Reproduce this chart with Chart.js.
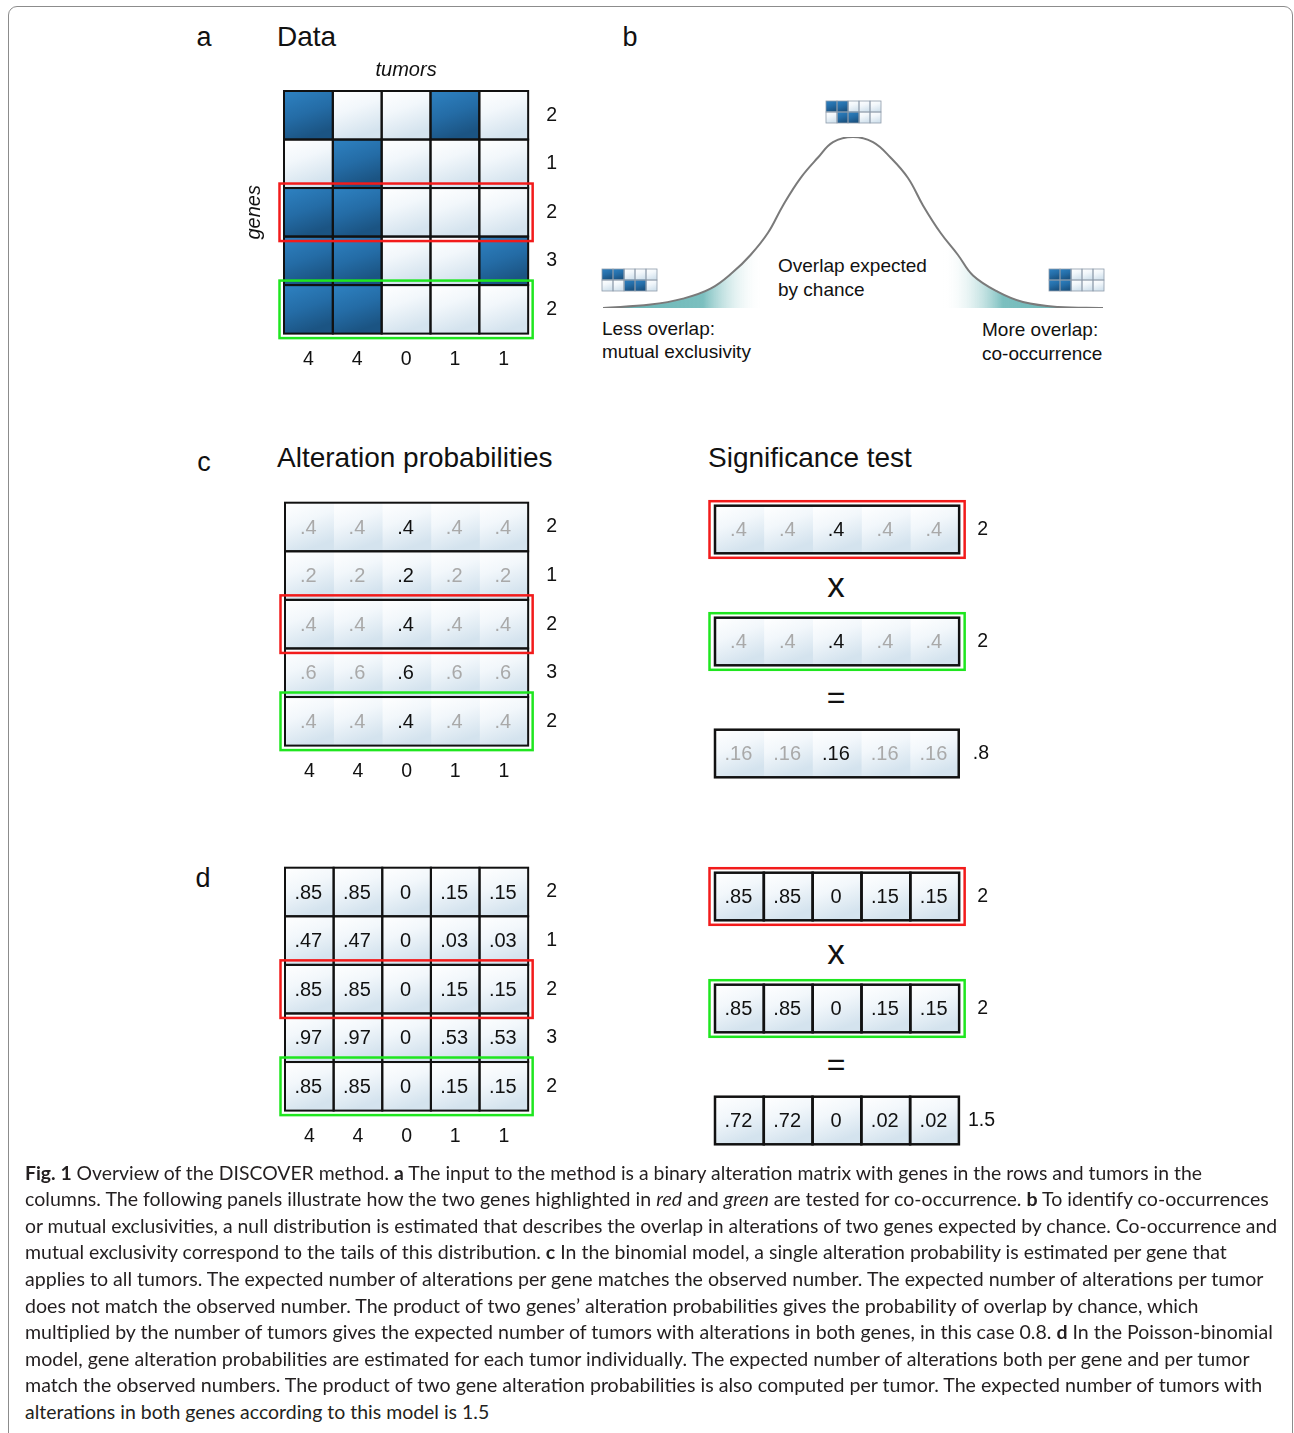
<!DOCTYPE html>
<html>
<head>
<meta charset="utf-8">
<script src="https://cdn.jsdelivr.net/npm/chart.js@4.4.1/dist/chart.umd.min.js"></script>
<style>
html, body { margin: 0; padding: 0; background: #fff; }
#fig { position: relative; width: 1294px; height: 1433px; overflow: hidden; font-family: 'Liberation Sans', Arial, sans-serif; color: #111; }
#frame { position: absolute; left: 8px; top: 6px; width: 1285px; height: 1480px; border: 1.5px solid #8c8c8c; border-radius: 9px; box-sizing: border-box; }
.t { position: absolute; white-space: nowrap; line-height: 1; }
.c { transform: translate(-50%, -50%); }
.l { transform: translateY(-50%); }
.w { position: absolute; }
.w canvas { display: block; }
.cap { position: absolute; left: 25px; top: 1200px; white-space: nowrap; line-height: 1; font-family: Lato, 'Open Sans', sans-serif; font-size: 19px; color: #231f20; transform-origin: 0 50%; }
</style>
</head>
<body>
<div id="fig">
  <div id="frame"></div>

  <div class="t c" style="left:204px;top:37px;font-size:27px">a</div>
  <div class="t l" style="left:277px;top:37px;font-size:28px">Data</div>
  <div class="t c" style="left:630px;top:37px;font-size:27px">b</div>
  <div class="t c" style="left:204px;top:462px;font-size:27px">c</div>
  <div class="t l" style="left:277px;top:458px;font-size:28px">Alteration probabilities</div>
  <div class="t l" style="left:708px;top:458px;font-size:28px">Significance test</div>
  <div class="t c" style="left:203px;top:878px;font-size:27px">d</div>

  <div class="t l" style="left:778px;top:265px;font-size:19px">Overlap expected</div>
  <div class="t l" style="left:778px;top:289px;font-size:19px">by chance</div>
  <div class="t l" style="left:602px;top:328px;font-size:19px">Less overlap:</div>
  <div class="t l" style="left:602px;top:351px;font-size:19px">mutual exclusivity</div>
  <div class="t l" style="left:982px;top:329px;font-size:19px">More overlap:</div>
  <div class="t l" style="left:982px;top:353px;font-size:19px">co-occurrence</div>

  <div class="t c" style="left:836px;top:584px;font-size:35px">x</div>
  <div class="t c" style="left:836px;top:697px;font-size:32px">=</div>
  <div class="t c" style="left:836px;top:951px;font-size:35px">x</div>
  <div class="t c" style="left:836px;top:1064px;font-size:32px">=</div>

  <div class="w" id="gA"></div>
  <div class="w" id="bell"></div>
  <div class="w" id="mTop"></div>
  <div class="w" id="mLeft"></div>
  <div class="w" id="mRight"></div>
  <div class="w" id="gC"></div>
  <div class="w" id="sC1"></div>
  <div class="w" id="sC2"></div>
  <div class="w" id="sC3"></div>
  <div class="w" id="gD"></div>
  <div class="w" id="sD1"></div>
  <div class="w" id="sD2"></div>
  <div class="w" id="sD3"></div>

  <div class="cap"><b>Fig. 1</b> Overview of the DISCOVER method. <b>a</b> The input to the method is a binary alteration matrix with genes in the rows and tumors in the</div>
  <div class="cap">columns. The following panels illustrate how the two genes highlighted in <i>red</i> and <i>green</i> are tested for co-occurrence. <b>b</b> To identify co-occurrences</div>
  <div class="cap">or mutual exclusivities, a null distribution is estimated that describes the overlap in alterations of two genes expected by chance. Co-occurrence and</div>
  <div class="cap">mutual exclusivity correspond to the tails of this distribution. <b>c</b> In the binomial model, a single alteration probability is estimated per gene that</div>
  <div class="cap">applies to all tumors. The expected number of alterations per gene matches the observed number. The expected number of alterations per tumor</div>
  <div class="cap">does not match the observed number. The product of two genes’ alteration probabilities gives the probability of overlap by chance, which</div>
  <div class="cap">multiplied by the number of tumors gives the expected number of tumors with alterations in both genes, in this case 0.8. <b>d</b> In the Poisson-binomial</div>
  <div class="cap">model, gene alteration probabilities are estimated for each tumor individually. The expected number of alterations both per gene and per tumor</div>
  <div class="cap">match the observed numbers. The product of two gene alteration probabilities is also computed per tumor. The expected number of tumors with</div>
  <div class="cap">alterations in both genes according to this model is 1.5</div>
</div>

<script>
const SANS = "'Liberation Sans', Arial, sans-serif";

// panel a: genes in rows, tumors in columns
const tumorTotals = ['4', '4', '0', '1', '1'];
const geneTotals = ['2', '1', '2', '3', '2'];
const alterations = [
  [1, 0, 0, 1, 0],
  [0, 1, 0, 0, 0],
  [1, 1, 0, 0, 0],
  [1, 1, 0, 0, 1],
  [1, 1, 0, 0, 0]
];
const redGene = 2;
const greenGene = 4;
const shownTumor = 2;   // column printed in black in panel c

// panel b: null distribution of overlap
const overlap = [-10, -8.1, -6.8, -5.7, -4.8, -4.1, -3.4, -2.8, -2.1, -1.4, -0.8, 0,
                 0.8, 1.5, 2.2, 2.8, 3.5, 4.2, 4.8, 5.8, 6.8, 8.2, 10];
const density = [0, 0.02, 0.055, 0.113, 0.21, 0.31, 0.44, 0.6, 0.76, 0.88, 0.97, 1,
                 0.97, 0.88, 0.76, 0.6, 0.44, 0.31, 0.19, 0.094, 0.035, 0.006, 0];
const miniChance = [[1, 1, 0, 0, 0], [0, 1, 1, 0, 0]];
const miniExclusive = [[1, 1, 0, 0, 0], [0, 0, 1, 1, 0]];
const miniCooccur = [[1, 1, 0, 0, 0], [1, 1, 0, 0, 0]];

// panel c: binomial model
const geneProb = ['.4', '.2', '.4', '.6', '.4'];
const pairProb = '.16';
const pairExpected = '.8';

// panel d: Poisson-binomial model
const tumorProb = [
  ['.85', '.85', '0', '.15', '.15'],
  ['.47', '.47', '0', '.03', '.03'],
  ['.85', '.85', '0', '.15', '.15'],
  ['.97', '.97', '0', '.53', '.53'],
  ['.85', '.85', '0', '.15', '.15']
];
const pairTumorProb = ['.72', '.72', '0', '.02', '.02'];
const pairTumorExpected = '1.5';

const RED = '#f21b1b';
const GREEN = '#1fe61f';

function cellFill(ctx, o, c) {
  const chart = ctx.chart, r = ctx.dataIndex;
  const xs = chart.scales.x, ys = chart.scales.y;
  if (r === undefined || !xs || !ys) return '#fff';
  const nR = o.cells.length;
  const h = (ys.bottom - ys.top) / nR;
  const y0 = ys.getPixelForValue(r) - h / 2;
  const x0 = xs.getPixelForValue(c), x1 = xs.getPixelForValue(c + 1);
  const dark = o.cells[r][c] === 1;
  if (![h, y0, x0, x1].every(Number.isFinite)) return dark ? '#2268a0' : '#eef4f9';
  const g = chart.ctx.createLinearGradient(x0, y0, x0 + (x1 - x0) * 0.35, y0 + h);
  if (dark) {
    g.addColorStop(0, '#2e82c2');
    g.addColorStop(0.55, '#246ca6');
    g.addColorStop(1, '#1b5483');
  } else {
    g.addColorStop(0, '#ffffff');
    g.addColorStop(0.45, '#f2f7fb');
    g.addColorStop(1, '#d4e3ee');
  }
  return g;
}

function gridDeco(o) {
  return {
    id: 'gridDeco',
    afterDatasetsDraw(chart) {
      const g = chart.ctx, xs = chart.scales.x, ys = chart.scales.y;
      const nR = o.cells.length, nC = o.cells[0].length;
      const h = (ys.bottom - ys.top) / nR;
      const top = r => ys.getPixelForValue(r) - h / 2;
      const L = xs.getPixelForValue(0), R = xs.getPixelForValue(nC);
      g.save();
      g.strokeStyle = o.lineColor || '#111';
      g.lineWidth = o.lineWidth || 2;
      for (let r = 0; r < nR; r++) {
        if (o.rowsOnly) {
          g.strokeRect(L, top(r), R - L, h);
        } else {
          for (let c = 0; c < nC; c++) {
            const a = xs.getPixelForValue(c), b = xs.getPixelForValue(c + 1);
            g.strokeRect(a, top(r), b - a, h);
          }
        }
      }
      if (o.texts) {
        g.font = '20px ' + SANS;
        g.textAlign = 'center';
        g.textBaseline = 'middle';
        for (let c = 0; c < nC; c++) {
          chart.getDatasetMeta(c).data.forEach((el, r) => {
            const p = el.getCenterPoint();
            g.fillStyle = o.textColor ? o.textColor(r, c) : '#111';
            g.fillText(o.texts[r][c], p.x - 1, p.y + 1);
          });
        }
      }
      (o.boxes || []).forEach(b => {
        g.strokeStyle = b.color;
        g.lineWidth = 2.5;
        g.strokeRect(L - b.px, top(b.row) - b.py, R - L + 2 * b.px, h + 2 * b.py);
      });
      g.restore();
    }
  };
}

function gridConfig(o) {
  const nC = o.cells[0].length;
  const datasets = [];
  for (let c = 0; c < nC; c++) {
    datasets.push({
      xAxisID: 'x', yAxisID: 'y',
      data: o.cells.map(() => 1),
      backgroundColor: ctx => cellFill(ctx, o, c),
      borderWidth: 0,
      barPercentage: 1,
      categoryPercentage: 1
    });
  }
  const noGrid = { display: false, drawTicks: false };
  const tickFont = { family: SANS, size: 19.5 };
  const scales = {
    x: { type: 'linear', stacked: true, min: 0, max: nC, display: false },
    y: {
      type: 'category', stacked: true, position: 'right', display: !!o.rowLabels,
      grid: noGrid, border: { display: false },
      ticks: { padding: o.rowPad || 18, color: '#111', font: tickFont, autoSkip: false }
    }
  };
  if (o.colLabels) {
    scales.xb = {
      type: 'category', axis: 'x', position: 'bottom', labels: o.colLabels, offset: true,
      grid: noGrid, border: { display: false },
      ticks: { padding: 14, color: '#111', font: tickFont, autoSkip: false, maxRotation: 0 }
    };
  }
  if (o.topTitle) {
    scales.xt = {
      type: 'category', axis: 'x', position: 'top', labels: [''],
      grid: noGrid, border: { display: false }, ticks: { display: false },
      title: { display: true, text: o.topTitle, color: '#111', font: { family: SANS, size: 20, style: 'italic' }, padding: 8.5 }
    };
  }
  if (o.leftTitle) {
    scales.yl = {
      type: 'category', axis: 'y', position: 'left', labels: [''],
      grid: noGrid, border: { display: false }, ticks: { display: false },
      title: { display: true, text: o.leftTitle, color: '#111', font: { family: SANS, size: 20, style: 'italic' }, padding: 17.5 }
    };
  }
  return {
    type: 'bar',
    data: { labels: o.rowLabels || o.cells.map(() => ''), datasets },
    options: {
      indexAxis: 'y', responsive: false, animation: false, events: [],
      layout: { padding: o.pad === undefined ? 8 : o.pad },
      plugins: { legend: { display: false }, tooltip: { enabled: false } },
      scales
    },
    plugins: [gridDeco(o)]
  };
}

// put a chart so that its chart area lands on the given box
function place(id, area, makeConfig) {
  const wrap = document.getElementById(id);
  let w = Math.round(area.w + 120), h = Math.round(area.h + 120), chart;
  for (let k = 0; k < 4; k++) {
    wrap.innerHTML = '';
    const cv = document.createElement('canvas');
    cv.width = w; cv.height = h;
    cv.style.width = w + 'px'; cv.style.height = h + 'px';
    wrap.appendChild(cv);
    chart = new Chart(cv, makeConfig());
    const ca = chart.chartArea;
    const dw = area.w - (ca.right - ca.left), dh = area.h - (ca.bottom - ca.top);
    if ((Math.abs(dw) < 0.6 && Math.abs(dh) < 0.6) || k === 3) break;
    chart.destroy();
    w = Math.round(w + dw); h = Math.round(h + dh);
  }
  wrap.style.left = Math.round(area.x - chart.chartArea.left) + 'px';
  wrap.style.top = Math.round(area.y - chart.chartArea.top) + 'px';
  return chart;
}

function safePlace(id, area, makeConfig) {
  try { place(id, area, makeConfig); } catch (e) { console.error(id, e); }
}

const rowBoxes = [{ row: redGene, color: RED, px: 4.5, py: 4.5 }, { row: greenGene, color: GREEN, px: 4.5, py: 4.5 }];

// panel a
safePlace('gA', { x: 284, y: 91, w: 244, h: 243 }, () => gridConfig({
  cells: alterations, rowLabels: geneTotals, colLabels: tumorTotals,
  topTitle: 'tumors', leftTitle: 'genes', boxes: rowBoxes, lineWidth: 2
}));

// panel b
safePlace('bell', { x: 603, y: 137, w: 500, h: 171 }, () => ({
  type: 'line',
  data: {
    datasets: [{
      data: overlap.map((x, i) => ({ x, y: density[i] })),
      borderColor: '#7a7a7a', borderWidth: 2, pointRadius: 0,
      tension: 0.4, fill: 'origin',
      backgroundColor: ctx => {
        const ca = ctx.chart.chartArea;
        if (!ca || !Number.isFinite(ca.left) || !Number.isFinite(ca.right)) return 'rgba(0,0,0,0)';
        const g = ctx.chart.ctx.createLinearGradient(ca.left, 0, ca.right, 0);
        g.addColorStop(0, 'rgba(92,175,175,0.95)');
        g.addColorStop(0.2, 'rgba(100,180,180,0.85)');
        g.addColorStop(0.32, 'rgba(255,255,255,0)');
        g.addColorStop(0.68, 'rgba(255,255,255,0)');
        g.addColorStop(0.8, 'rgba(100,180,180,0.85)');
        g.addColorStop(1, 'rgba(92,175,175,0.95)');
        return g;
      }
    }]
  },
  options: {
    responsive: false, animation: false, events: [],
    layout: { padding: 4 },
    plugins: { legend: { display: false }, tooltip: { enabled: false } },
    scales: {
      x: { type: 'linear', min: -10, max: 10, display: false },
      y: { type: 'linear', min: 0, max: 1, display: false }
    }
  }
}));
const miniStyle = { lineColor: '#8e9cab', lineWidth: 0.8, pad: 1 };
safePlace('mTop', { x: 826, y: 101, w: 55, h: 22 }, () => gridConfig(Object.assign({ cells: miniChance }, miniStyle)));
safePlace('mLeft', { x: 602, y: 269, w: 55, h: 22 }, () => gridConfig(Object.assign({ cells: miniExclusive }, miniStyle)));
safePlace('mRight', { x: 1049, y: 269, w: 55, h: 22 }, () => gridConfig(Object.assign({ cells: miniCooccur }, miniStyle)));

// panel c
const light = () => [0, 0, 0, 0, 0];
const faintText = (r, c) => (c === shownTumor ? '#111' : '#a9a9a9');
safePlace('gC', { x: 285, y: 503, w: 243, h: 243 }, () => gridConfig({
  cells: geneProb.map(light), texts: geneProb.map(p => tumorTotals.map(() => p)),
  rowLabels: geneTotals, colLabels: tumorTotals, boxes: rowBoxes,
  rowsOnly: true, lineWidth: 2, textColor: faintText
}));
const sigBox = color => [{ row: 0, color, px: 5.5, py: 4.5 }];
safePlace('sC1', { x: 715, y: 506, w: 244, h: 48 }, () => gridConfig({
  cells: [light()], texts: [tumorTotals.map(() => geneProb[redGene])], rowLabels: [geneTotals[redGene]],
  boxes: sigBox(RED), rowsOnly: true, lineWidth: 2.5, textColor: faintText, rowPad: 18
}));
safePlace('sC2', { x: 715, y: 618, w: 244, h: 48 }, () => gridConfig({
  cells: [light()], texts: [tumorTotals.map(() => geneProb[greenGene])], rowLabels: [geneTotals[greenGene]],
  boxes: sigBox(GREEN), rowsOnly: true, lineWidth: 2.5, textColor: faintText, rowPad: 18
}));
safePlace('sC3', { x: 715, y: 730, w: 244, h: 48 }, () => gridConfig({
  cells: [light()], texts: [tumorTotals.map(() => pairProb)], rowLabels: [pairExpected],
  rowsOnly: true, lineWidth: 2.5, textColor: faintText, rowPad: 14
}));

// panel d
safePlace('gD', { x: 285, y: 868, w: 243, h: 243 }, () => gridConfig({
  cells: tumorProb.map(light), texts: tumorProb,
  rowLabels: geneTotals, colLabels: tumorTotals, boxes: rowBoxes, lineWidth: 2
}));
safePlace('sD1', { x: 715, y: 873, w: 244, h: 48 }, () => gridConfig({
  cells: [light()], texts: [tumorProb[redGene]], rowLabels: [geneTotals[redGene]],
  boxes: sigBox(RED), lineWidth: 2.5, rowPad: 18
}));
safePlace('sD2', { x: 715, y: 985, w: 244, h: 48 }, () => gridConfig({
  cells: [light()], texts: [tumorProb[greenGene]], rowLabels: [geneTotals[greenGene]],
  boxes: sigBox(GREEN), lineWidth: 2.5, rowPad: 18
}));
safePlace('sD3', { x: 715, y: 1097, w: 244, h: 48 }, () => gridConfig({
  cells: [light()], texts: [pairTumorProb], rowLabels: [pairTumorExpected],
  lineWidth: 2.5, rowPad: 9
}));

// caption lines, stretched to the line ends of the original
const capEnds = [1202, 1269, 1277, 1227, 1263, 1198, 1273, 1250, 1262, 489];
function fitCaption() {
  document.querySelectorAll('.cap').forEach((el, i) => {
    el.style.top = (1172 + i * 26.6 - 9.5) + 'px';
    const natural = el.offsetWidth;
    el.style.transform = 'scaleX(' + ((capEnds[i] - 25) / natural).toFixed(4) + ')';
  });
}
fitCaption();
if (document.fonts && document.fonts.ready) document.fonts.ready.then(fitCaption);
</script>
</body>
</html>
